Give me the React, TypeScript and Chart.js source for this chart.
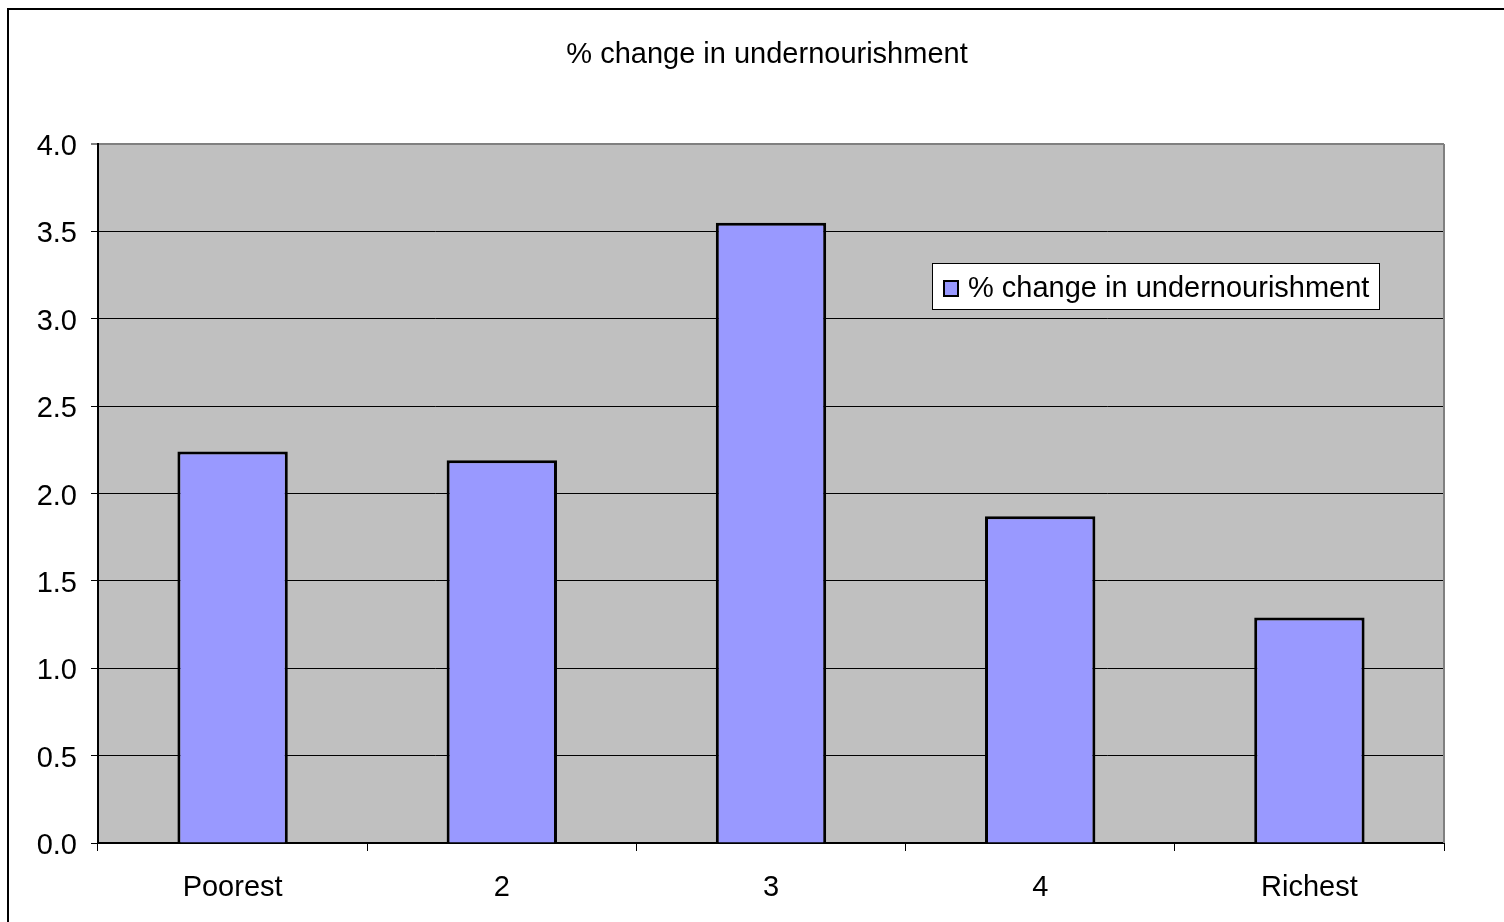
import React, { useEffect, useRef } from "react";
import { Chart, registerables } from "chart.js";

Chart.register(...registerables);

const TITLE = "% change in undernourishment";
const SERIES_LABEL = "% change in undernourishment";
const CATEGORIES = ["Poorest", "2", "3", "4", "Richest"];
const VALUES = [2.24, 2.19, 3.55, 1.87, 1.29];
const Y_MIN = 0;
const Y_MAX = 4;
const Y_STEP = 0.5;

const FONT = "'Liberation Sans', Arial, sans-serif";

const framePlugin = {
  id: "frame",
  beforeDraw(chart: any) {
    const { ctx, chartArea } = chart;
    ctx.save();
    ctx.fillStyle = "#ffffff";
    ctx.fillRect(0, 0, chart.width, chart.height);
    ctx.strokeStyle = "#000000";
    ctx.lineWidth = 2;
    ctx.beginPath();
    ctx.moveTo(8, chart.height + 5);
    ctx.lineTo(8, 9);
    ctx.lineTo(chart.width + 5, 9);
    ctx.stroke();
    ctx.fillStyle = "#C0C0C0";
    ctx.fillRect(chartArea.left, chartArea.top, chartArea.right - chartArea.left, chartArea.bottom - chartArea.top);
    ctx.fillStyle = "#000000";
    ctx.font = `29px ${FONT}`;
    ctx.textAlign = "center";
    ctx.textBaseline = "middle";
    ctx.fillText(TITLE, 767, 55);
    ctx.restore();
  },
  afterDatasetsDraw(chart: any) {
    const { ctx, chartArea } = chart;
    ctx.save();
    ctx.strokeStyle = "#808080";
    ctx.lineWidth = 2;
    ctx.beginPath();
    ctx.moveTo(chartArea.right, chartArea.top);
    ctx.lineTo(chartArea.right, chartArea.bottom);
    ctx.stroke();
    const ds = chart.data.datasets[0];
    const bx = 932.5, by = 263.5, bw = 447, bh = 46;
    ctx.fillStyle = "#ffffff";
    ctx.fillRect(bx, by, bw, bh);
    ctx.strokeStyle = "#000000";
    ctx.lineWidth = 1;
    ctx.strokeRect(bx, by, bw, bh);
    ctx.fillStyle = ds.backgroundColor;
    ctx.fillRect(944, 281, 14, 15);
    ctx.lineWidth = 2;
    ctx.strokeRect(944, 281, 14, 15);
    ctx.fillStyle = "#000000";
    ctx.font = `29px ${FONT}`;
    ctx.textAlign = "left";
    ctx.textBaseline = "middle";
    ctx.fillText(ds.label, 968, 289);
    ctx.restore();
  },
};

export default function App() {
  const ref = useRef<HTMLCanvasElement>(null);
  useEffect(() => {
    const chart = new Chart(ref.current!, {
      type: "bar",
      data: {
        labels: CATEGORIES,
        datasets: [
          {
            label: SERIES_LABEL,
            data: VALUES,
            backgroundColor: "#9999FF",
            borderColor: "#000000",
            borderWidth: 3,
            categoryPercentage: 1,
            barPercentage: 0.41,
          },
        ],
      },
      options: {
        animation: false,
        responsive: false,
        maintainAspectRatio: false,
        layout: { padding: { left: 0, right: 60, top: 144, bottom: 0 } },
        plugins: {
          legend: { display: false },
          title: { display: false },
          tooltip: { enabled: false },
        },
        scales: {
          x: {
            offset: true,
            afterFit: (s: any) => {
              s.height = 79;
            },
            border: { display: true, color: "#000000", width: 2 },
            grid: {
              offset: true,
              drawOnChartArea: false,
              drawTicks: true,
              tickLength: 8,
              color: "#000000",
              lineWidth: 1,
            },
            ticks: {
              color: "#000000",
              font: { family: FONT, size: 29 },
              padding: 20,
              maxRotation: 0,
            },
          },
          y: {
            min: Y_MIN,
            max: Y_MAX,
            afterFit: (s: any) => {
              s.width = 98;
            },
            border: { display: true, color: "#000000", width: 2 },
            grid: {
              color: (c: any) => (c.tick && c.tick.value === Y_MAX ? "#808080" : "#000000"),
              lineWidth: (c: any) => (c.tick && c.tick.value === Y_MAX ? 2 : 1),
              tickLength: 7,
              drawTicks: true,
            },
            ticks: {
              stepSize: Y_STEP,
              color: "#000000",
              font: { family: FONT, size: 29 },
              padding: 14,
              labelOffset: 3,
              callback: (v: any) => Number(v).toFixed(1),
            },
          },
        },
      },
      plugins: [framePlugin],
    });
    return () => chart.destroy();
  }, []);
  return (
    <div style={{ position: "fixed", left: 0, top: 0, width: 1504, height: 922 }}>
      <canvas ref={ref} width={1504} height={922} style={{ width: 1504, height: 922, display: "block" }} />
    </div>
  );
}
